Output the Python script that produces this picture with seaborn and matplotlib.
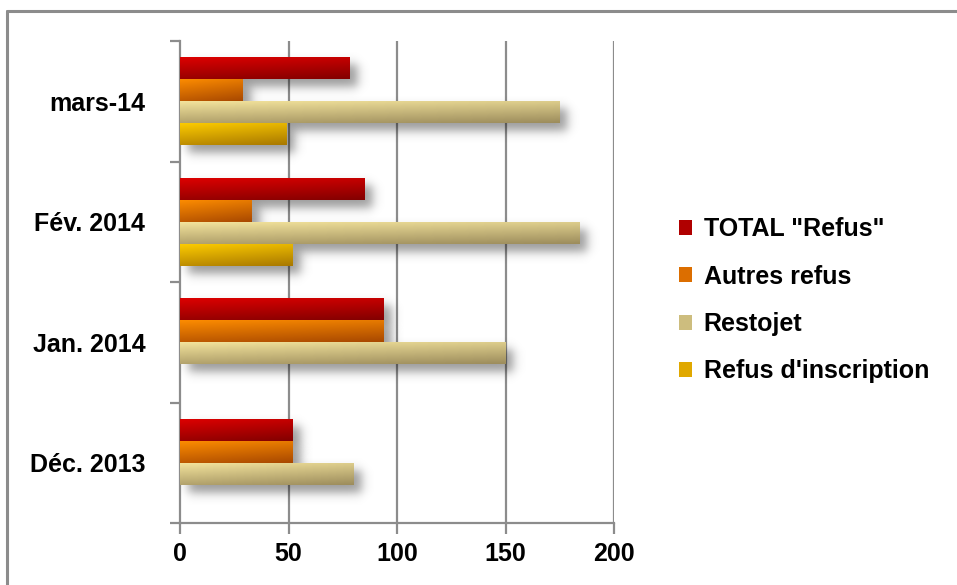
import numpy as np
import pandas as pd
import matplotlib
matplotlib.use("Agg")
import matplotlib.pyplot as plt
import seaborn as sns
from matplotlib.colors import LinearSegmentedColormap
from matplotlib.patches import Rectangle, Patch
from matplotlib.lines import Line2D

# Monthly refusal counts
months = ["mars-14", "Fév. 2014", "Jan. 2014", "Déc. 2013"]
series = ['TOTAL "Refus"', "Autres refus", "Restojet", "Refus d'inscription"]
total_refus = [78, 85, 94, 52]
autres_refus = [29, 33, 94, 52]
restojet = [175, 184, 150, 80]
refus_inscription = [49, 52, 0, 0]

# Light/dark shade pairs for each series (gradient fill)
shades = {
    'TOTAL "Refus"': ("#E00000", "#820000"),
    "Autres refus": ("#FF8E00", "#A84800"),
    "Restojet": ("#F6E69E", "#9C8C5C"),
    "Refus d'inscription": ("#FFCE00", "#A87800"),
}
legend_colors = ["#B00000", "#DC6E00", "#CDBD7E", "#E0A800"]

values = [total_refus, autres_refus, restojet, refus_inscription]
df = pd.DataFrame({
    "mois": months * len(series),
    "serie": np.repeat(series, len(months)).tolist(),
    "valeur": [v for vals in values for v in vals],
})

sns.set_theme(style="white")
plt.rcParams["font.family"] = ["Liberation Sans", "DejaVu Sans"]
plt.rcParams["font.weight"] = "bold"
plt.rcParams["text.color"] = "black"

fig = plt.figure(figsize=(9.57, 5.85), dpi=100)
ax = fig.add_axes([180 / 957, 1 - 523 / 585, 434 / 957, 482 / 585])

palette = {s: shades[s][0] for s in series}
sns.barplot(data=df, y="mois", x="valeur", hue="serie", order=months,
            hue_order=series, palette=palette, orient="h", width=0.733,
            linewidth=0, saturation=1, legend=False, ax=ax, zorder=3)

ax.set_xlim(0, 200)
ax.set_ylim(3.5, -0.5)

# pixel <-> data scale factors for the shadow geometry
fig.canvas.draw()
(px0, py0), (px1, py1) = ax.transData.transform([(0, 0), (1, 1)])
sx = abs(px1 - px0)   # pixels per x unit
sy = abs(py1 - py0)   # pixels per y unit

def soft_profile(n_px, size_px, blur):
    t = np.linspace(-blur * 2, size_px + blur * 2, n_px)
    return 0.5 * (np.tanh(t / blur) - np.tanh((t - size_px) / blur)), blur * 2

# Gradient fill and soft drop shadow on each bar
grad_y, grad_x = np.mgrid[0:1:64j, 0:1:256j]
grad = 0.75 * grad_y + 0.25 * grad_x
bars = [p for p in ax.patches if isinstance(p, Rectangle)]
n_m = len(months)
blur, dx, dy = 6.0, 8.0, 8.0
for i, p in enumerate(bars):
    w = p.get_width()
    if w <= 0:
        continue
    s = series[i // n_m]
    x0, y0, h = p.get_x(), p.get_y(), p.get_height()

    wp, hp = w * sx, h * sy
    ax_prof, mx = soft_profile(220, wp, blur)
    ay_prof, my = soft_profile(70, hp, blur)
    alpha = 0.40 * np.outer(ay_prof, ax_prof)
    shadow = np.zeros(alpha.shape + (4,))
    shadow[..., 3] = alpha
    ext = (x0 + (dx - mx) / sx, x0 + (dx + wp + mx) / sx,
           y0 + (dy + hp + my) / sy, y0 + (dy - my) / sy)
    ax.imshow(shadow, extent=ext, aspect="auto", zorder=2,
              interpolation="bilinear")

    cmap = LinearSegmentedColormap.from_list(s, list(shades[s]))
    im = ax.imshow(grad, extent=(x0, x0 + w, y0 + h, y0), cmap=cmap,
                   aspect="auto", zorder=3.5, interpolation="bilinear")
    im.set_clip_path(p)

ax.set_xlim(0, 200)
ax.set_ylim(3.5, -0.5)
ax.set_aspect("auto")

grid_c = "#8C8C8C"
ax.set_xticks([0, 50, 100, 150, 200])
for xv in [50, 100, 150, 200]:
    ax.axvline(xv, color=grid_c, lw=1.6, zorder=1)
ax.set_yticks(range(len(months)))
ax.set_yticklabels(months)
ax.set_yticks(np.arange(-0.5, len(months)), minor=True)
ax.tick_params(axis="y", which="major", length=0, pad=25,
               labelsize=18, labelcolor="black")
ax.tick_params(axis="y", which="minor", length=7, width=1.6,
               color=grid_c, left=True, direction="out")
ax.tick_params(axis="x", length=8, width=1.6, color=grid_c, bottom=True,
               direction="out", labelsize=18, pad=6, labelcolor="black")
for lab in ax.get_xticklabels() + ax.get_yticklabels():
    lab.set_fontweight("bold")
ax.set_xlabel("")
ax.set_ylabel("")

for side in ["top", "right"]:
    ax.spines[side].set_visible(False)
for side in ["left", "bottom"]:
    ax.spines[side].set_color(grid_c)
    ax.spines[side].set_linewidth(1.6)

handles = [Patch(facecolor=c, edgecolor="none") for c in legend_colors]
leg = fig.legend(handles, series, loc="upper left",
                 bbox_to_anchor=(656 / 957, 1 - 195 / 585), frameon=False,
                 handlelength=0.55, handleheight=0.55, handletextpad=0.45,
                 labelspacing=0.93, prop={"size": 18, "weight": "bold"})
for t in leg.get_texts():
    t.set_color("black")

# outer chart frame (top and left edges visible)
fig.add_artist(Line2D([7 / 957, 1], [1 - 11 / 585, 1 - 11 / 585],
                      transform=fig.transFigure, color=grid_c, lw=2.2))
fig.add_artist(Line2D([7 / 957, 7 / 957], [0, 1 - 11 / 585],
                      transform=fig.transFigure, color=grid_c, lw=2.2))

fig.savefig("out.png", dpi=100, facecolor="white")
